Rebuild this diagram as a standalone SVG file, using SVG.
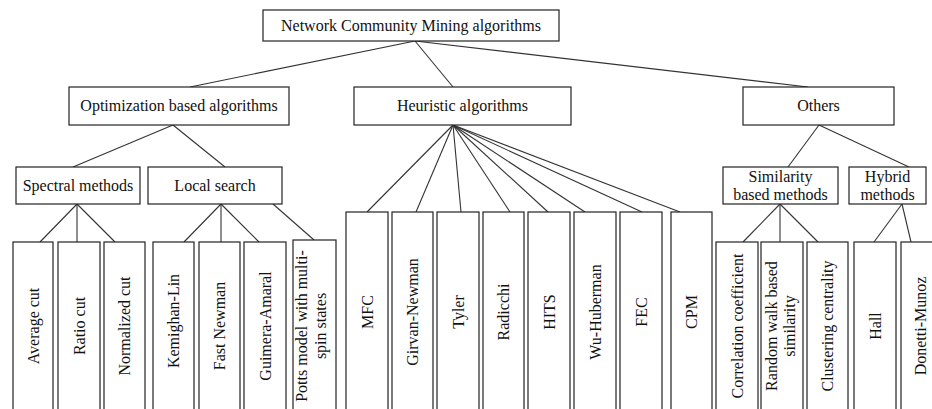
<svg xmlns="http://www.w3.org/2000/svg" width="932" height="409" viewBox="0 0 932 409">
<style>
.box{fill:#fff;stroke:#222;stroke-width:1.2}
.t{font-family:"Liberation Serif","Times New Roman",serif;font-size:16px;fill:#111;text-anchor:middle}
.c line{stroke:#333;stroke-width:1.1}
</style>
<rect width="932" height="409" fill="#fff"/>
<g class="c" id="connectors">
<line x1="415" y1="41" x2="190" y2="87"/>
<line x1="415" y1="41" x2="453" y2="87"/>
<line x1="415" y1="41" x2="808" y2="87"/>
<line x1="173" y1="125" x2="73" y2="167"/>
<line x1="173" y1="125" x2="225" y2="167"/>
<line x1="77" y1="204" x2="40" y2="242"/>
<line x1="77" y1="204" x2="77" y2="242"/>
<line x1="77" y1="204" x2="115" y2="242"/>
<line x1="221" y1="204" x2="184" y2="242"/>
<line x1="221" y1="204" x2="221" y2="242"/>
<line x1="221" y1="204" x2="259" y2="242"/>
<line x1="273" y1="204" x2="314" y2="240"/>
<line x1="453" y1="125" x2="367" y2="212"/>
<line x1="453" y1="125" x2="416" y2="212"/>
<line x1="453" y1="125" x2="461" y2="212"/>
<line x1="453" y1="125" x2="510" y2="212"/>
<line x1="453" y1="125" x2="548" y2="212"/>
<line x1="453" y1="125" x2="585" y2="212"/>
<line x1="453" y1="125" x2="642" y2="212"/>
<line x1="453" y1="125" x2="680" y2="212"/>
<line x1="819" y1="125" x2="788" y2="167"/>
<line x1="819" y1="125" x2="909" y2="167"/>
<line x1="780" y1="204" x2="743" y2="242"/>
<line x1="780" y1="204" x2="780" y2="242"/>
<line x1="780" y1="204" x2="818" y2="242"/>
<line x1="902" y1="204" x2="874" y2="242"/>
<line x1="902" y1="204" x2="911" y2="242"/>
</g>
<g id="root"><rect class="box" x="263" y="10" width="296" height="31"/><text class="t" x="411" y="31">Network Community Mining algorithms</text></g>
<g id="optimization"><rect class="box" x="69" y="87" width="220" height="38"/><text class="t" x="179" y="111">Optimization based algorithms</text></g>
<g id="heuristic"><rect class="box" x="354" y="87" width="217" height="38"/><text class="t" x="462.5" y="111">Heuristic algorithms</text></g>
<g id="others"><rect class="box" x="743" y="87" width="151" height="38"/><text class="t" x="818.5" y="111">Others</text></g>
<g id="spectral"><rect class="box" x="16" y="167" width="124" height="37"/><text class="t" x="78" y="191">Spectral methods</text></g>
<g id="localsearch"><rect class="box" x="148" y="167" width="134" height="37"/><text class="t" x="215" y="191">Local search</text></g>
<g id="similarity"><rect class="box" x="723" y="167" width="115" height="37"/><text class="t" x="780.5" y="182">Similarity</text><text class="t" x="780.5" y="200">based methods</text></g>
<g id="hybrid"><rect class="box" x="849" y="167" width="77" height="37"/><text class="t" x="887.5" y="182">Hybrid</text><text class="t" x="887.5" y="200">methods</text></g>
<g id="averagecut"><rect class="box" x="13" y="242" width="40" height="180"/><text class="t" transform="translate(38.5,326) rotate(-90)">Average cut</text></g>
<g id="ratiocut"><rect class="box" x="58" y="242" width="42" height="180"/><text class="t" transform="translate(84.5,326) rotate(-90)">Ratio cut</text></g>
<g id="normalizedcut"><rect class="box" x="104" y="242" width="41" height="180"/><text class="t" transform="translate(130,326) rotate(-90)">Normalized cut</text></g>
<g id="kernighan"><rect class="box" x="153" y="242" width="41" height="180"/><text class="t" transform="translate(179,321) rotate(-90)">Kemighan-Lin</text></g>
<g id="fastnewman"><rect class="box" x="199" y="242" width="41" height="180"/><text class="t" transform="translate(225,326) rotate(-90)">Fast Newman</text></g>
<g id="guimera"><rect class="box" x="244" y="242" width="42" height="180"/><text class="t" transform="translate(270.5,326) rotate(-90)">Guimera-Amaral</text></g>
<g id="potts"><rect class="box" x="293" y="240" width="43" height="180"/><text class="t" transform="translate(307,326) rotate(-90)">Potts model with multi-</text><text class="t" transform="translate(326,326) rotate(-90)">spin states</text></g>
<g id="mfc"><rect class="box" x="346" y="212" width="42" height="210"/><text class="t" transform="translate(372.5,312) rotate(-90)">MFC</text></g>
<g id="girvan"><rect class="box" x="392" y="212" width="41" height="210"/><text class="t" transform="translate(418,312) rotate(-90)">Girvan-Newman</text></g>
<g id="tyler"><rect class="box" x="437" y="212" width="42" height="210"/><text class="t" transform="translate(463.5,312) rotate(-90)">Tyler</text></g>
<g id="radicchi"><rect class="box" x="483" y="212" width="41" height="210"/><text class="t" transform="translate(509,312) rotate(-90)">Radicchi</text></g>
<g id="hits"><rect class="box" x="528" y="212" width="42" height="210"/><text class="t" transform="translate(554.5,312) rotate(-90)">HITS</text></g>
<g id="wuhuberman"><rect class="box" x="574" y="212" width="42" height="210"/><text class="t" transform="translate(600.5,312) rotate(-90)">Wu-Huberman</text></g>
<g id="fec"><rect class="box" x="620" y="212" width="42" height="210"/><text class="t" transform="translate(646.5,312) rotate(-90)">FEC</text></g>
<g id="cpm"><rect class="box" x="671" y="212" width="41" height="210"/><text class="t" transform="translate(697,312) rotate(-90)">CPM</text></g>
<g id="correlation"><rect class="box" x="716" y="242" width="42" height="180"/><text class="t" transform="translate(742.5,326) rotate(-90)">Correlation coefficient</text></g>
<g id="randomwalk"><rect class="box" x="761" y="242" width="42" height="180"/><text class="t" transform="translate(776.5,326) rotate(-90)">Random walk based</text><text class="t" transform="translate(794.5,326) rotate(-90)">similarity</text></g>
<g id="clustering"><rect class="box" x="807" y="242" width="41" height="180"/><text class="t" transform="translate(833,326) rotate(-90)">Clustering centrality</text></g>
<g id="hall"><rect class="box" x="854" y="242" width="42" height="180"/><text class="t" transform="translate(880.5,326) rotate(-90)">Hall</text></g>
<g id="donetti"><rect class="box" x="901" y="242" width="42" height="180"/><text class="t" transform="translate(925.5,326) rotate(-90)">Donetti-Munoz</text></g>
</svg>
